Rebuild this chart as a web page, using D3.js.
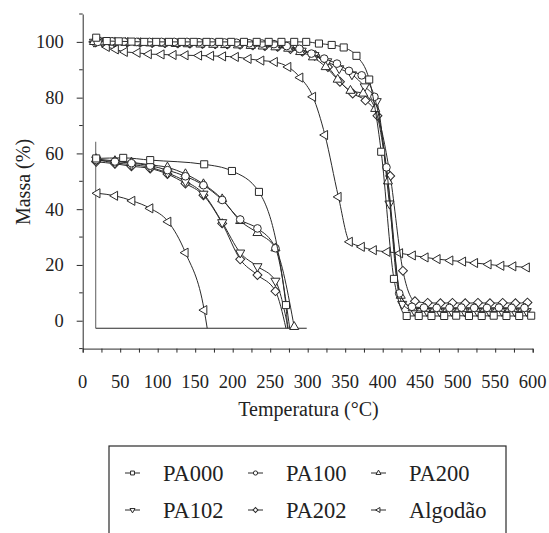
<!DOCTYPE html>
<html><head><meta charset="utf-8">
<script src="https://cdn.jsdelivr.net/npm/d3@7/dist/d3.min.js"></script>
<style>body{margin:0;background:#fff}svg{display:block}</style>
</head><body><svg id="c" width="549" height="533"></svg>
<script>
// ---- data ----
const pa000Temps = [18,32,48,65,82,98,115,132,148,165,182,198,215,232,248,265,282,298,315,332,348,365,382,398,415,432,448,465,482,498,515,532,548,565,582,598];
const pa000 = [101.5,100.3,100.2,100.1,100,100,100,100,100,100,100,100,100,100,100,100,100,100,99.4,98.9,98,95,86.5,60.6,15,1.7,1.7,1.7,1.7,1.8,1.7,1.7,1.8,1.7,1.7,1.8];
const pa100Temps = [20,39,55,72,89,105,122,139,155,172,189,205,222,239,255,272,289,305,322,339,355,372,389,405,422,439,455,472,489,505,522,539,555,572,589];
const pa100 = [100,100.2,100.1,100,100,100,100,100,99.9,99.9,99.8,99.7,99.5,99.4,99.2,98.5,97.5,95.8,94,92.2,89.6,88,80.3,55,9.8,5,4.7,4.6,4.6,4.7,4.6,4.6,4.7,4.6,4.6];
const pa200Temps = [15,24,40,57,74,90,107,124,140,157,174,190,207,224,240,257,274,290,307,324,340,357,374,390,407,424,440,457,474,490,507,524,540,557,574,590];
const pa200 = [100,99.9,99.8,99.7,99.6,99.5,99.4,99.3,99.2,99.1,99,98.9,98.8,98.6,98.4,98.1,97.6,96.4,94.5,91,86.5,82.5,81.5,76,50,9,4.5,4.3,4.2,4.3,4.2,4.3,4.2,4.3,4.2,4.3];
const pa102Temps = [15,26,42,59,76,92,109,126,142,159,176,192,209,226,242,259,276,292,309,326,342,359,376,392,409,426,442,459,476,492,509,526,542,559,576,592];
const pa102 = [100,100.1,100,100,99.9,99.9,99.8,99.8,99.7,99.6,99.5,99.4,99.3,99.1,98.9,98.6,98,96.8,95.2,93,90.5,88.3,84,78.7,42,6,3.6,3.4,3.3,3.4,3.3,3.4,3.3,3.4,3.3,3.4];
const pa202Temps = [17,27,43,60,77,93,110,127,143,160,177,193,210,227,243,260,277,293,310,327,343,360,377,393,410,427,443,460,477,493,510,527,543,560,577,593];
const pa202 = [99.8,99.9,100,99.9,99.8,99.7,99.6,99.5,99.4,99.3,99.2,99.1,99,98.8,98.5,98.2,97.4,96.5,95.2,91,85.7,81.5,79,73.5,51.9,17.9,7,6.4,6.3,6.4,6.3,6.4,6.3,6.4,6.3,6.5];
const algTemps = [15,32,44,56,73,88,105,121,137,155,171,187,204,221,238,256,274,290,307,323,341,356,372,388,406,423,440,457,473,490,507,523,541,558,574,592];
const algodao = [100,98.2,97.3,96.4,96.1,95.6,95.5,95.3,95.2,95.1,95,94.8,94.6,93.9,93.3,92.8,91,87.2,80.3,66.6,44.4,28.3,26.5,25.3,24.7,24.2,23.4,22.7,22.1,21.6,21.2,20.7,20.2,19.7,19.5,19.1];

// inset (read in main-axis units)
const insetFrame = [17.3, 298.7, -2.7, 64.2]; // xStart, xEnd, yBottom, yTop
const insetTemps = [18,43,65,90,113,137,161,186,210,233,257];
const ins000Temps = [18,54,90,162,199,235,271];
const ins000 = [58.2,58.4,57.6,56.1,53.7,46.2,5.6];
const ins100 = [57.6,57.1,56.5,55.6,54,51.8,48.6,43.3,36.3,33.1,26];
const ins200Temps = [18,43,65,90,113,137,161,186,210,233,257,282];
const ins200 = [58,57.3,56.8,55.9,55,52.6,49,43.6,35.8,31.5,26,-2.2];
const ins102 = [57.8,56.6,56,55,53,50,45.5,35.3,24.4,19.5,14.3];
const ins202 = [57,56.3,55.4,54.6,52.6,49.2,45,34.9,22,16.4,10.6];
const insAlgTemps = [19.5,43,66,90,114,137,162];
const insAlg = [45.7,44.8,43,40.3,35.5,24.4,3.8];
const insetEnds = {PA000:273, PA100:276, PA102:274, PA202:271, Alg:166};

const xTicks = [0,50,100,150,200,250,300,350,400,450,500,550,600];
const xMinor = d3.range(0,601,25);
const yTicks = [0,20,40,60,80,100];
const yMinor = [-10,10,30,50,70,90,110];
const names = ["PA000","PA100","PA200","PA102","PA202","Algodão"];

// ---- setup ----
const FONT = '"Liberation Serif"';
const svg = d3.select("#c").attr("font-family", FONT);
const x = d3.scaleLinear().domain([0,600]).range([82.7,532.7]);
const y = d3.scaleLinear().domain([-10,110]).range([348.6,14]);
const ink = "#2a2a2a";
const txt = "#222";

function sym(kind){
  const g = d3.symbol();
  switch(kind){
    case "square": return {d:g.type(d3.symbolSquare).size(50)(), r:0};
    case "circle": return {d:g.type(d3.symbolCircle).size(46)(), r:0};
    case "tup": return {d:g.type(d3.symbolTriangle).size(36)(), r:0};
    case "tdown": return {d:g.type(d3.symbolTriangle).size(36)(), r:180};
    case "diamond": return {d:g.type(d3.symbolSquare).size(40)(), r:45};
    case "tleft": return {d:g.type(d3.symbolTriangle).size(36)(), r:-90};
  }
}
const kinds = {PA000:"square",PA100:"circle",PA200:"tup",PA102:"tdown",PA202:"diamond",Alg:"tleft"};

const line = d3.line().x(d=>x(d[0])).y(d=>y(d[1])).curve(d3.curveMonotoneX);
function drawSeries(pts, kind, endPt){
  const lp = endPt ? pts.concat([endPt]) : pts;
  svg.append("path").attr("d", line(lp)).attr("fill","none").attr("stroke",ink).attr("stroke-width",1);
  const s = sym(kind);
  svg.append("g").selectAll("path").data(pts).join("path")
    .attr("d", s.d).attr("transform", d=>`translate(${x(d[0])},${y(d[1])}) rotate(${s.r})`)
    .attr("fill","#fff").attr("stroke",ink).attr("stroke-width",1);
}
const zip = (t,v)=>t.map((tt,i)=>[tt,v[i]]);

// ---- axes ----
const gx = svg.append("g").attr("transform",`translate(0,${y(-10)})`)
  .call(d3.axisBottom(x).tickValues(xMinor).tickSize(4).tickFormat(""));
gx.select(".domain").attr("stroke",ink);
gx.selectAll(".tick line").attr("stroke",ink);
svg.append("g").selectAll("text").data(xTicks).join("text")
  .attr("x",d=>x(d)).attr("y",388).attr("text-anchor","middle").attr("font-size",18.5)
  .attr("font-family",FONT).attr("fill",txt).text(d=>d);

const gy = svg.append("g").attr("transform",`translate(${x(0)},0)`)
  .call(d3.axisLeft(y).tickValues(yTicks).tickSize(6).tickPadding(13).tickSizeOuter(0));
gy.attr("font-family",FONT);
gy.select(".domain").attr("stroke",ink);
gy.selectAll(".tick line").attr("stroke",ink);
gy.selectAll(".tick text").attr("font-size",18.5).attr("font-family",FONT).attr("fill",txt);
svg.append("g").selectAll("line").data(yMinor).join("line")
  .attr("x1",x(0)-3.5).attr("x2",x(0)).attr("y1",d=>y(d)).attr("y2",d=>y(d)).attr("stroke",ink);

svg.append("text").attr("transform",`translate(30,182) rotate(-90)`).attr("text-anchor","middle")
  .attr("font-size",20).attr("font-family",FONT).attr("fill",txt).text("Massa (%)");
svg.append("text").attr("x",308.5).attr("y",416).attr("text-anchor","middle").attr("font-size",20)
  .attr("font-family",FONT).attr("fill",txt).text("Temperatura (°C)");

// ---- inset frame ----
svg.append("line").attr("x1",x(insetFrame[0])).attr("x2",x(insetFrame[0]))
  .attr("y1",y(insetFrame[3])).attr("y2",y(insetFrame[2])).attr("stroke","#777").attr("stroke-width",1.2);
svg.append("line").attr("x1",x(insetFrame[0])).attr("x2",x(insetFrame[1]))
  .attr("y1",y(insetFrame[2])).attr("y2",y(insetFrame[2])).attr("stroke",ink).attr("stroke-width",1.2);

// ---- main series ----
drawSeries(zip(algTemps,algodao),"tleft");
drawSeries(zip(pa202Temps,pa202),"diamond");
drawSeries(zip(pa102Temps,pa102),"tdown");
drawSeries(zip(pa200Temps,pa200),"tup");
drawSeries(zip(pa100Temps,pa100),"circle");
drawSeries(zip(pa000Temps,pa000),"square");

// ---- inset series ----
const yb = insetFrame[2];
drawSeries(zip(insAlgTemps,insAlg),"tleft",[insetEnds.Alg,yb]);
drawSeries(zip(insetTemps,ins202),"diamond",[insetEnds.PA202,yb]);
drawSeries(zip(insetTemps,ins102),"tdown",[insetEnds.PA102,yb]);
drawSeries(zip(ins200Temps,ins200),"tup");
drawSeries(zip(insetTemps,ins100),"circle",[insetEnds.PA100,yb]);
drawSeries(zip(ins000Temps,ins000),"square",[insetEnds.PA000,yb]);

// ---- legend ----
svg.append("rect").attr("x",109).attr("y",446).attr("width",397).attr("height",120)
  .attr("fill","none").attr("stroke",ink).attr("stroke-width",1.2);
const legKinds = ["PA000","PA100","PA200","PA102","PA202","Alg"];
const colText = [163,286,409];
const rows = [473,510];
legKinds.forEach((k,i)=>{
  const t = colText[i%3], ry = rows[Math.floor(i/3)];
  svg.append("line").attr("x1",t-38).attr("x2",t-23).attr("y1",ry).attr("y2",ry).attr("stroke",ink);
  const s = sym(kinds[k]);
  svg.append("path").attr("d",s.d).attr("transform",`translate(${t-30.5},${ry}) rotate(${s.r}) scale(0.55)`)
    .attr("fill","#fff").attr("stroke",ink).attr("stroke-width",1/0.55);
  svg.append("text").attr("x",t).attr("y",ry+7.5).attr("font-size",22.5)
    .attr("font-family",FONT).attr("fill",txt).text(names[i]);
});
</script></body></html>
